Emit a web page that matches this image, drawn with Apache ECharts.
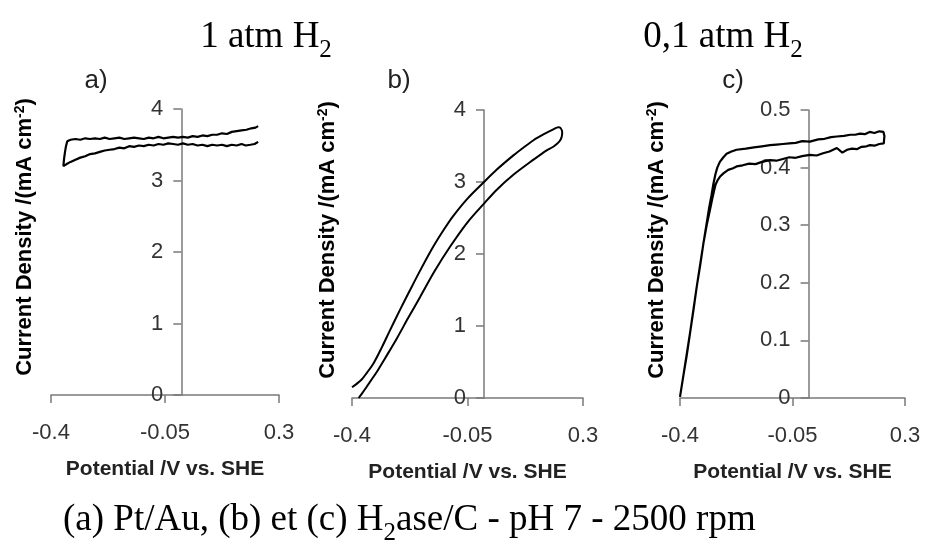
<!DOCTYPE html>
<html><head><meta charset="utf-8">
<script src="https://cdn.jsdelivr.net/npm/echarts@6/dist/echarts.min.js"></script>
<style>html,body{margin:0;padding:0;background:#fff}#c{width:925px;height:541px}</style>
</head><body><div id="c"></div>
<script>
// ---- tick values ----
const xTicks = [-0.4, -0.05, 0.3];
const xMin = -0.4, xMax = 0.3;
const yMaxAB = 4, yStepAB = 1;
const yMaxC = 0.5, yStepC = 0.1;

// ---- panel a : Pt/Au, 1 atm H2 (one CV loop) ----
const aX = [0.236, 0.225, 0.212, 0.198, 0.185, 0.170, 0.155, 0.140, 0.125, 0.110, 0.095, 0.080, 0.065, 0.050, 0.035, 0.020, 0.005, -0.010, -0.025, -0.040, -0.055, -0.070, -0.085, -0.100, -0.115, -0.130, -0.145, -0.160, -0.175, -0.190, -0.205, -0.220, -0.235, -0.250, -0.265, -0.280, -0.295, -0.310, -0.325, -0.340, -0.352, -0.362,
  -0.360, -0.357, -0.354, -0.350, -0.340, -0.325, -0.310, -0.295, -0.280, -0.265, -0.250, -0.235, -0.220, -0.205, -0.190, -0.175, -0.160, -0.145, -0.130, -0.115, -0.100, -0.085, -0.070, -0.055, -0.040, -0.025, -0.010, 0.005, 0.020, 0.035, 0.050, 0.065, 0.080, 0.095, 0.110, 0.125, 0.140, 0.155, 0.170, 0.185, 0.200, 0.215, 0.228, 0.236];
const aY = [3.54, 3.51, 3.50, 3.49, 3.51, 3.49, 3.50, 3.48, 3.50, 3.49, 3.50, 3.48, 3.50, 3.49, 3.51, 3.50, 3.52, 3.50, 3.51, 3.52, 3.50, 3.51, 3.49, 3.50, 3.48, 3.49, 3.47, 3.48, 3.45, 3.46, 3.44, 3.43, 3.42, 3.40, 3.38, 3.37, 3.34, 3.32, 3.29, 3.26, 3.23, 3.20,
  3.30, 3.40, 3.48, 3.55, 3.57, 3.58, 3.57, 3.59, 3.58, 3.59, 3.58, 3.60, 3.58, 3.59, 3.60, 3.58, 3.59, 3.60, 3.59, 3.58, 3.60, 3.59, 3.61, 3.59, 3.60, 3.61, 3.60, 3.61, 3.60, 3.62, 3.61, 3.63, 3.62, 3.64, 3.64, 3.66, 3.65, 3.68, 3.69, 3.70, 3.71, 3.73, 3.74, 3.76];

// ---- panel b : H2ase/C, 1 atm H2 ----
const bX = [-0.380, -0.370, -0.355, -0.340, -0.325, -0.300, -0.265, -0.230, -0.194, -0.150, -0.103, -0.050, 0.000, 0.038, 0.089, 0.150, 0.190, 0.210, 0.228, 0.235, 0.237, 0.232, 0.225, 0.210, 0.180, 0.150, 0.120, 0.089, 0.038, 0.000, -0.050, -0.093, -0.120, -0.154, -0.190, -0.224, -0.255, -0.285, -0.310, -0.335, -0.355, -0.370, -0.385, -0.400];
const bY = [0.00, 0.06, 0.16, 0.26, 0.36, 0.55, 0.82, 1.11, 1.40, 1.76, 2.10, 2.44, 2.70, 2.89, 3.10, 3.31, 3.44, 3.49, 3.56, 3.62, 3.69, 3.75, 3.76, 3.73, 3.66, 3.58, 3.48, 3.37, 3.17, 3.00, 2.77, 2.53, 2.35, 2.10, 1.80, 1.50, 1.22, 0.94, 0.70, 0.48, 0.35, 0.26, 0.20, 0.15];

// ---- panel c : H2ase/C, 0.1 atm H2 ----
const cX = [-0.400, -0.390, -0.379, -0.369, -0.358, -0.348, -0.337, -0.327, -0.317, -0.307, -0.300, -0.294, -0.289, -0.283, -0.276, -0.265, -0.250, -0.235, -0.224, -0.205, -0.185, -0.165, -0.145, -0.120, -0.100, -0.080, -0.060, -0.040, -0.020, 0.004, 0.025, 0.045, 0.065, 0.088, 0.105, 0.120, 0.135, 0.150, 0.165, 0.180, 0.191, 0.205, 0.220, 0.234, 0.236,
  0.233, 0.220, 0.205, 0.190, 0.175, 0.160, 0.145, 0.130, 0.110, 0.088, 0.070, 0.050, 0.030, 0.004, -0.020, -0.040, -0.060, -0.080, -0.100, -0.120, -0.145, -0.170, -0.195, -0.224, -0.240, -0.255, -0.265, -0.276, -0.284, -0.290, -0.296, -0.302, -0.310, -0.327, -0.348, -0.369, -0.390, -0.400];
const cY = [0.002, 0.037, 0.074, 0.112, 0.153, 0.193, 0.231, 0.269, 0.300, 0.326, 0.345, 0.360, 0.371, 0.378, 0.384, 0.390, 0.396, 0.399, 0.402, 0.404, 0.407, 0.406, 0.410, 0.413, 0.412, 0.415, 0.418, 0.417, 0.420, 0.422, 0.421, 0.425, 0.428, 0.434, 0.426, 0.431, 0.433, 0.432, 0.436, 0.437, 0.439, 0.438, 0.441, 0.442, 0.455,
  0.462, 0.463, 0.460, 0.462, 0.458, 0.459, 0.457, 0.457, 0.455, 0.454, 0.453, 0.450, 0.449, 0.445, 0.446, 0.443, 0.442, 0.441, 0.440, 0.439, 0.437, 0.435, 0.433, 0.431, 0.428, 0.424, 0.418, 0.410, 0.400, 0.388, 0.372, 0.352, 0.328, 0.269, 0.193, 0.112, 0.037, 0.002];

// ---- texts ----
const yName = '{n|Current Density /(mA cm}{s|-2}{n|)}';
const xName = 'Potential /V vs. SHE';
const panelLabels = ['a)', 'b)', 'c)'];

const pairs = (xs, ys) => xs.map((x, i) => [x, ys[i]]);

const axisColor = '#7a7a7a';
const grids = [
  {left: 51, top: 109, width: 228, height: 286},
  {left: 352, top: 110, width: 231, height: 288},
  {left: 680, top: 110, width: 225, height: 288}
];
const yMax = [yMaxAB, yMaxAB, yMaxC];
const yStep = [yStepAB, yStepAB, yStepC];

const xAxes = grids.map((g, i) => ({
  gridIndex: i, type: 'value', min: xMin, max: xMax,
  axisLine: {show: true, lineStyle: {color: axisColor, width: 1.5}},
  axisTick: {show: true, customValues: xTicks, length: 8, lineStyle: {color: axisColor, width: 1.5}},
  axisLabel: {customValues: xTicks, margin: 27, fontSize: 22, color: '#333', fontFamily: 'Liberation Sans'},
  splitLine: {show: false},
  name: xName, nameLocation: 'middle', nameGap: 64,
  nameTextStyle: {fontWeight: 'bold', fontSize: 21, color: '#222', fontFamily: 'Liberation Sans'}
}));
// y axis crosses the x axis at potential 0: shift it from the grid edge by the scale position of 0
const yAxes = grids.map((g, i) => ({
  gridIndex: i, type: 'value', min: 0, max: yMax[i], interval: yStep[i],
  offset: -g.width * (0 - xMin) / (xMax - xMin),
  axisLine: {show: true, onZero: false, lineStyle: {color: axisColor, width: 1.5}},
  axisTick: {show: true, length: 8, lineStyle: {color: axisColor, width: 1.5}},
  axisLabel: {margin: 18, fontSize: 22, color: '#333', fontFamily: 'Liberation Sans'},
  splitLine: {show: false}
}));

const series = [pairs(aX, aY), pairs(bX, bY), pairs(cX, cY)].map((d, i) => ({
  type: 'line', xAxisIndex: i, yAxisIndex: i, data: d, showSymbol: false, symbol: 'none',
  smooth: i === 1 ? 0.3 : false,
  lineStyle: {color: '#000', width: i === 1 ? 2 : 2.2}
}));

const serif = 'Liberation Serif';
const richH2 = {
  n: {fontSize: 37, fontFamily: serif, color: '#000', lineHeight: 40},
  s: {fontSize: 25, fontFamily: serif, color: '#000', lineHeight: 25, padding: [26, 0, 0, 0]}
};
const yNameRich = {
  n: {fontSize: 22, fontWeight: 'bold', fontFamily: 'Liberation Sans', color: '#222', lineHeight: 24},
  s: {fontSize: 14, fontWeight: 'bold', fontFamily: 'Liberation Sans', color: '#222', lineHeight: 14, verticalAlign: 'top'}
};
const yNamePos = [[25, 237], [328, 240], [657, 240]];
const panelPos = [[96, 81], [399, 81], [733, 81]];

const graphic = [
  {type: 'text', x: 266, y: 37, style: {text: '{n|1 atm H}{s|2}', rich: richH2, align: 'center', verticalAlign: 'middle'}},
  {type: 'text', x: 723, y: 37, style: {text: '{n|0,1 atm H}{s|2}', rich: richH2, align: 'center', verticalAlign: 'middle'}},
  {type: 'text', x: 63, y: 520, style: {text: '{n|(a) Pt/Au, (b) et (c) H}{s|2}{n|ase/C - pH 7 - 2500 rpm}', rich: richH2, align: 'left', verticalAlign: 'middle'}}
];
yNamePos.forEach(p => graphic.push({type: 'text', x: p[0], y: p[1], rotation: Math.PI / 2,
  style: {text: yName, rich: yNameRich, align: 'center', verticalAlign: 'middle'}}));
panelPos.forEach((p, i) => graphic.push({type: 'text', x: p[0], y: p[1],
  style: {text: panelLabels[i], fontSize: 26, fontFamily: 'Liberation Sans', fill: '#222', align: 'center', verticalAlign: 'middle'}}));

const chart = echarts.init(document.getElementById('c'), null, {renderer: 'canvas'});
chart.setOption({
  animation: false,
  backgroundColor: '#fff',
  grid: grids.map(g => Object.assign({outerBoundsMode: 'none', containLabel: false}, g)),
  xAxis: xAxes, yAxis: yAxes, series: series, graphic: graphic
});
</script></body></html>
